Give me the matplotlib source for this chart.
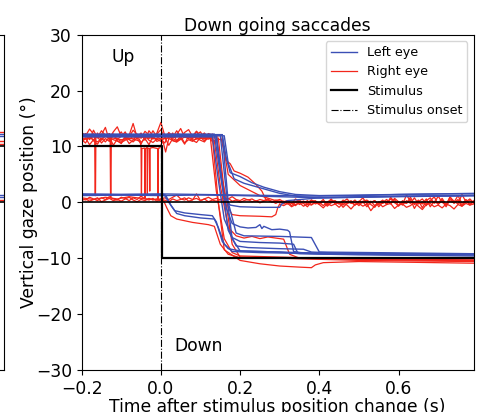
import numpy as np
import matplotlib.pyplot as plt

# sampling grids (s) for the noisy parts of the traces
t_pre = np.round(np.arange(-0.20, 0.145, 0.01), 3)    # -0.20 .. 0.14
t_post = np.round(np.arange(0.30, 0.795, 0.01), 3)    # 0.30 .. 0.79
t_full = np.round(np.arange(-0.20, 0.795, 0.01), 3)   # -0.20 .. 0.79

# right eye, up start, noisy fixation before the saccade (on t_pre)
ru1 = [11.8, 12.3, 11.2, 12.9, 11.5, 12.1, 13.4, 11.0, 12.2, 11.7, 12.6, 11.3, 12.0, 14.1, 11.6, 12.4, 11.1, 12.8,
       11.9, 12.2, 13.0, 11.4, 12.5, 11.8, 12.1, 13.2, 11.6, 12.0, 11.3, 12.7, 11.9, 12.4, 11.5, 12.2, 11.8]
ru2 = [11.2, 10.6, 11.9, 11.0, 10.4, 11.5, 10.8, 11.7, 10.2, 11.3, 10.9, 11.6, 10.5, 11.1, 12.0, 10.7, 11.4, 10.3,
       11.8, 10.9, 11.2, 10.6, 12.3, 11.0, 10.8, 11.5, 10.4, 11.9, 11.1, 10.7, 11.6, 11.0, 12.2, 10.8, 11.3]
ru3 = [12.5, 11.9, 13.1, 12.2, 11.6, 12.8, 12.0, 11.4, 12.6, 13.5, 11.8, 12.3, 11.7, 12.9, 12.1, 11.5, 12.7, 12.0,
       11.3, 12.4, 14.3, 11.9, 12.2, 11.6, 12.8, 11.7, 12.5, 13.0, 11.8, 12.1, 12.6, 11.4, 12.3, 12.0, 11.9]
ru4 = [10.9, 11.5, 10.3, 11.2, 11.8, 10.6, 11.4, 10.9, 12.1, 11.0, 10.5, 11.7, 11.2, 10.8, 11.5, 10.4, 11.9, 11.1,
       10.7, 11.3, 10.9, 11.6, 10.2, 11.4, 11.0, 11.8, 10.6, 11.2, 10.9, 11.5, 11.1, 10.8, 11.7, 11.3, 11.0]

# right eye traces with blinks
ru5_t = [-0.2, -0.19, -0.18, -0.17, -0.167, -0.166, -0.165, -0.164, -0.16, -0.15, -0.14, -0.13, -0.128, -0.127,
         -0.126, -0.125, -0.12, -0.11, -0.1, -0.09, -0.08, -0.07, -0.06, -0.05, -0.04, -0.03, -0.02, -0.01, 0.0,
         0.01, 0.02, 0.03, 0.04, 0.05, 0.06, 0.07, 0.08, 0.09, 0.1, 0.11, 0.12]
ru5_y = [11.6, 12.2, 11.3, 12.0, 11.5, 1.2, 1.2, 11.8, 12.4, 11.1, 11.9, 12.3, 11.4, 1.0, 1.0, 11.7, 12.1, 11.3,
         11.8, 12.6, 11.2, 11.9, 12.2, 11.5, 12.0, 11.4, 12.8, 11.7, 11.3, 12.1, 11.6, 12.4, 11.0, 11.8, 12.2,
         11.5, 11.9, 12.7, 11.4, 12.0, 11.6]
ru6_t = [-0.2, -0.18, -0.16, -0.14, -0.12, -0.1, -0.08, -0.06, -0.052, -0.05, -0.049, -0.048, -0.041, -0.040,
         -0.039, -0.035, -0.034, -0.033, -0.029, -0.028, -0.027, -0.02, -0.008, -0.007, -0.006, -0.003, 0.005,
         0.012, 0.02, 0.04, 0.06, 0.08, 0.1, 0.12]
ru6_y = [11.0, 11.6, 10.8, 11.9, 11.2, 10.7, 11.5, 11.1, 10.9, 9.8, 1.0, 9.6, 9.7, 0.8, 9.6, 9.8, 1.5, 9.7, 9.6,
         2.0, 9.7, 9.8, 9.6, 0.6, 9.7, 9.7, 11.0, 9.0, 11.4, 10.8, 11.7, 11.1, 11.5, 11.3]

# right eye, noisy fixation near 0 after the saccade (on t_post)
rp1 = [0.2, -0.3, 0.1, -0.6, 0.0, 0.4, -0.2, -0.8, 0.1, 0.3, -0.4, 0.2, -0.1, 0.6, -0.3, 0.0, -0.9, -0.2, 0.3,
       -0.5, 0.1, 0.8, -0.3, 0.2, -0.6, -0.1, 0.4, -0.4, 0.9, 0.0, -0.7, 0.3, -0.2, 0.5, -1.1, 0.1, 0.6, -0.3,
       0.2, 1.0, -0.4, 0.3, -0.8, 0.5, 0.0, 1.2, -0.2, 0.4, -0.5, 0.3]
rp2 = [0.5, 0.1, 0.3, -0.2, 0.6, 0.0, 0.2, -0.4, 0.4, 0.1, -0.1, 0.5, -0.5, 0.2, 0.3, -0.3, 0.1, 0.6, -0.2, 0.0,
       -0.6, 0.2, 0.4, -0.1, 0.3, -0.8, 0.0, 0.5, -0.2, 0.7, 0.1, -0.4, 1.3, 0.2, -0.3, 0.4, -1.0, 0.3, 0.8,
       -0.2, 1.1, 0.0, -0.5, 0.9, 0.2, -0.3, 1.4, 0.1, 0.6, -0.1]
rp3 = [-0.3, -0.6, -0.2, -0.8, -0.4, -0.1, -0.7, -0.3, -0.5, 0.0, -0.4, -1.0, -0.2, -0.6, -0.3, -0.9, -0.1, -0.5,
       -1.2, -0.4, -0.2, -0.7, -0.3, -1.5, -0.6, -0.1, -0.8, -0.4, -0.2, -1.1, -0.5, -0.3, -0.9, -0.6, 0.0, -0.7,
       -1.3, -0.4, -0.2, -0.8, -0.5, -1.0, -0.3, -0.6, -1.2, -0.4, -0.7, -0.2, -0.5, -0.3]

# right eye, central start, no saccade (on t_full)
rc2 = [0.7, 0.4, 0.9, 0.6, 0.3, 0.8, 0.5, 1.0, 0.6, 0.4, 0.9, 0.7, 0.3, 0.8, 0.5, 1.1, 0.6, 0.4, 0.7, 0.2, 0.6,
       0.8, 0.5, 0.9, 1.3, 0.6, 0.4, 0.8, 0.5, 0.7, 0.3, 0.6, 0.9, 0.5, 0.7, 0.4, 0.8, 0.6, 1.0, 0.5, 0.3, 0.7,
       0.4, 0.6, 0.2, 0.5, 0.3, 0.6, 0.1, 0.4,
       0.2, 0.0, 0.3, -0.2, 0.1, -0.4, 0.2, -0.1, 0.4, -0.3, 0.0, -0.6, 0.1, 0.3, -0.2, 0.0, -0.5, 0.2, -0.1,
       0.4, -0.3, 0.1, -0.8, 0.0, 0.3, -0.4, 0.2, -0.2, 0.6, -0.1, 0.0, -0.5, 0.3, -0.2, 0.8, -0.3, 0.1, -0.6,
       0.4, 0.0, -0.2, 0.7, -0.4, 0.2, -0.1, 0.5, -0.6, 0.1, 0.3, -0.2]
rc3 = [0.3, 0.6, 0.2, 0.5, 0.8, 0.1, 0.4, 0.7, 0.3, 0.5, 0.2, 0.6, 0.9, 0.4, 0.1, 0.5, 0.3, 0.7, 0.4, 0.6, 0.2,
       0.4, 0.1, 0.6, 0.3, 0.5, 0.8, 0.2, 0.4, 1.5, 0.3, 0.6, 0.1, 0.4, 0.2, 0.5, 0.3, 0.7, 0.2, 0.4, 0.0, 0.3,
       0.5, 0.1, 0.3, -0.1, 0.2, 0.4, 0.0, 0.2,
       -0.1, 0.2, -0.3, 0.0, -0.6, 0.1, -0.2, 0.3, -0.4, 0.0, -0.2, 0.2, -0.7, -0.1, 0.1, -0.3, 0.4, -0.2, 0.0,
       -0.5, 0.2, -0.1, 0.3, -0.4, -0.9, 0.1, -0.2, 0.2, -0.3, 0.5, -0.6, 0.0, -0.2, 0.9, -0.4, 0.1, -0.3, 0.6,
       -0.8, 0.2, -0.1, 0.4, -0.5, 1.0, -0.2, 0.3, -0.7, 0.5, -0.3, 0.1]


def join(*parts):
    t = np.concatenate([np.asarray(p[0], float) for p in parts])
    y = np.concatenate([np.asarray(p[1], float) for p in parts])
    return t, y


# right eye traces
right_traces = [
    join((t_pre, ru1),
         ([0.15, 0.165, 0.175, 0.185, 0.2, 0.22, 0.24, 0.255, 0.265, 0.28, 0.29],
          [12.0, 7.5, 6.9, 5.6, 5.2, 4.5, 3.2, 2.0, 0.5, 0.2, -0.2]),
         (t_post, rp1)),
    join((t_pre, ru2),
         ([0.155, 0.17, 0.2, 0.25, 0.29], [11.2, 5.0, 3.0, 1.2, 0.3]),
         (t_post, rp2)),
    join((t_pre[:34], ru3[:34]),
         ([0.14, 0.155, 0.17, 0.18, 0.2, 0.25, 0.28, 0.29, 0.295],
          [12.0, 4.0, -1.0, -2.2, -2.4, -2.5, -2.6, -2.2, -1.0]),
         (t_post, rp3)),
    join((t_pre[:34], ru4[:34]),
         ([0.135, 0.15, 0.17, 0.19, 0.21, 0.23, 0.25, 0.27, 0.29, 0.31, 0.315, 0.325, 0.35, 0.4, 0.5, 0.6, 0.79],
          [11.0, 3.0, -4.5, -6.0, -6.4, -6.1, -6.5, -6.2, -6.4, -6.6, -7.5, -9.3, -10.0, -10.1, -10.2, -10.3, -10.4])),
    join((ru5_t, ru5_y),
         ([0.125, 0.14, 0.16, 0.18, 0.2, 0.3, 0.4, 0.6, 0.79],
          [11.5, 2.0, -6.5, -9.0, -9.6, -9.8, -10.0, -10.3, -10.5])),
    join((ru6_t, ru6_y),
         ([0.13, 0.145, 0.16, 0.2, 0.25, 0.3, 0.35, 0.38, 0.39, 0.41, 0.5, 0.6, 0.79],
          [11.6, 0.0, -8.5, -10.4, -11.0, -11.4, -11.6, -11.7, -11.2, -10.8, -10.6, -10.7, -10.9])),
    join(([-0.2, -0.15, -0.1, -0.05, 0.0, 0.05, 0.1, 0.145, 0.16, 0.18, 0.2, 0.3, 0.4, 0.5, 0.79],
          [11.4, 11.9, 11.2, 11.7, 11.3, 11.8, 11.5, 11.5, 2.0, -7.5, -9.8, -10.0, -10.2, -10.4, -10.6])),
    join(([-0.2, -0.17, -0.14, -0.11, -0.08, -0.05, -0.02, 0.005, 0.015, 0.025, 0.04, 0.06, 0.08, 0.1, 0.12,
           0.135, 0.15, 0.17, 0.2, 0.3, 0.4, 0.6, 0.79],
          [0.8, 0.5, 0.9, 0.6, 1.0, 0.7, 0.5, 0.6, -1.0, -2.4, -3.0, -3.3, -3.6, -3.8, -4.0, -4.3, -7.5, -9.3,
           -9.9, -10.0, -10.1, -10.2, -10.3])),
    join((t_full, rc2)),
    join((t_full, rc3)),
]

# left eye traces
left_traces = [
    ([-0.2, 0.155, 0.165, 0.175, 0.2, 0.23, 0.26, 0.3, 0.34, 0.4, 0.5, 0.6, 0.7, 0.79],
     [12.1, 12.1, 8.0, 5.3, 4.6, 3.5, 2.7, 1.9, 1.4, 1.2, 1.3, 1.4, 1.5, 1.6]),
    ([-0.2, 0.16, 0.17, 0.185, 0.21, 0.25, 0.3, 0.35, 0.4, 0.5, 0.6, 0.79],
     [11.9, 11.9, 7.0, 4.2, 3.4, 2.6, 1.6, 1.0, 0.8, 0.9, 1.1, 1.2]),
    ([-0.2, 0.14, 0.15, 0.16, 0.175, 0.2, 0.25, 0.3, 0.305, 0.32, 0.4, 0.5, 0.79],
     [12.0, 12.0, 6.0, 1.0, -0.5, -0.8, -0.9, -0.9, -0.3, 0.3, 0.8, 1.0, 1.2]),
    ([-0.2, 0.135, 0.15, 0.165, 0.18, 0.2, 0.22, 0.24, 0.25, 0.255, 0.26, 0.28, 0.3, 0.32, 0.325, 0.335, 0.36,
      0.4, 0.5, 0.6, 0.79],
     [12.2, 12.2, 5.0, -1.0, -3.8, -4.4, -4.6, -4.5, -4.0, -4.7, -4.3, -4.9, -4.8, -5.0, -5.3, -8.8, -9.1, -9.2,
      -9.3, -9.2, -9.3]),
    ([-0.2, 0.13, 0.145, 0.16, 0.18, 0.2, 0.25, 0.3, 0.335, 0.345, 0.36, 0.45, 0.6, 0.79],
     [11.8, 11.8, 4.0, -3.0, -6.3, -7.0, -7.2, -7.3, -7.5, -9.0, -9.1, -9.2, -9.4, -9.3]),
    ([-0.2, 0.14, 0.155, 0.17, 0.19, 0.22, 0.3, 0.36, 0.38, 0.45, 0.6, 0.79],
     [11.7, 11.7, 3.0, -5.0, -7.8, -8.1, -8.3, -8.4, -8.9, -9.1, -9.2, -9.4]),
    ([-0.2, 0.15, 0.165, 0.18, 0.2, 0.3, 0.35, 0.5, 0.79],
     [12.0, 12.0, 2.0, -6.5, -8.7, -8.9, -9.2, -9.4, -9.6]),
    ([-0.2, 0.155, 0.17, 0.19, 0.21, 0.3, 0.38, 0.4, 0.79],
     [12.1, 12.1, 0.0, -5.5, -6.0, -6.1, -6.3, -8.9, -9.2]),
    ([-0.2, 0.008, 0.02, 0.035, 0.06, 0.1, 0.13, 0.14, 0.155, 0.17, 0.2, 0.3, 0.4, 0.6, 0.79],
     [1.4, 1.4, 0.0, -1.5, -1.9, -2.2, -2.4, -3.5, -7.0, -8.3, -8.7, -8.9, -9.1, -9.3, -9.2]),
    ([-0.2, 0.012, 0.025, 0.04, 0.06, 0.1, 0.135, 0.145, 0.16, 0.18, 0.25, 0.4, 0.6, 0.79],
     [1.3, 1.3, -0.5, -2.0, -2.4, -2.8, -3.0, -4.5, -7.5, -8.8, -9.0, -9.2, -9.3, -9.4]),
    ([-0.2, -0.1, 0.0, 0.1, 0.2, 0.3, 0.4, 0.5, 0.6, 0.7, 0.79],
     [1.5, 1.4, 1.5, 1.4, 1.3, 1.2, 1.1, 1.2, 1.4, 1.5, 1.5]),
    ([-0.2, -0.1, 0.0, 0.1, 0.2, 0.3, 0.4, 0.5, 0.6, 0.7, 0.79],
     [1.2, 1.3, 1.2, 1.3, 1.2, 1.0, 0.8, 0.9, 1.0, 1.1, 1.2]),
]

# stimulus positions
stim_step_t = [-0.2, 0.004, 0.004, 0.79]
stim_step_y = [10, 10, -10, -10]
stim_zero_t = [-0.2, 0.79]
stim_zero_y = [0, 0]

# neighbouring panel (only its right edge is in the picture)
prev_t = [0.6, 0.79]
prev_left = [11.8, 12.2, 1.3, 0.9]
prev_right = [11.0, 12.6, 10.5, 0.4]
prev_stim = [10, 0]

BLUE = '#3b4fb5'
RED = '#f2261b'
FS = 12.3

fig = plt.figure(figsize=(4.83, 4.12), dpi=100)

ax0 = fig.add_axes([-0.5, 0.102, 0.5083, 0.814])
for v in prev_right:
    ax0.plot(prev_t, [v, v], color=RED, lw=1)
for v in prev_left:
    ax0.plot(prev_t, [v, v], color=BLUE, lw=1)
for v in prev_stim:
    ax0.plot(prev_t, [v, v], color='k', lw=1.2)
ax0.set_xlim(-0.2, 0.79)
ax0.set_ylim(-30, 30)
ax0.set_xticks([])
ax0.set_yticks([])

ax = fig.add_axes([0.169, 0.102, 0.812, 0.814])
for i, (t, y) in enumerate(right_traces):
    ax.plot(t, y, color=RED, lw=0.9, label='Right eye' if i == 0 else None)
for i, (t, y) in enumerate(left_traces):
    ax.plot(t, y, color=BLUE, lw=1.0, label='Left eye' if i == 0 else None)
ax.plot(stim_zero_t, stim_zero_y, color='k', lw=1.2)
ax.plot(stim_step_t, stim_step_y, color='k', lw=1.6, label='Stimulus')
ax.axvline(0, color='k', ls='-.', lw=0.8, label='Stimulus onset')

ax.set_xlim(-0.2, 0.79)
ax.set_ylim(-30, 30)
ax.set_xticks([-0.2, 0.0, 0.2, 0.4, 0.6])
ax.set_yticks([-30, -20, -10, 0, 10, 20, 30])
ax.tick_params(labelsize=FS)
ax.text(-0.096, 26, 'Up', fontsize=FS, ha='center', va='center')
ax.text(0.096, -25.7, 'Down', fontsize=FS, ha='center', va='center')
ax.set_title('Down going saccades', fontsize=FS, pad=2.5)
ax.set_xlabel('Time after stimulus position change (s)', fontsize=FS, labelpad=0.5)
ax.set_ylabel('Vertical gaze position (°)', fontsize=FS)
ax.yaxis.set_label_coords(-0.11, 0.5)

h, l = ax.get_legend_handles_labels()
order = [l.index(k) for k in ['Left eye', 'Right eye', 'Stimulus', 'Stimulus onset']]
ax.legend([h[i] for i in order], [l[i] for i in order], loc='upper right', fontsize=9.2)

fig.savefig('out.png', dpi=100)
